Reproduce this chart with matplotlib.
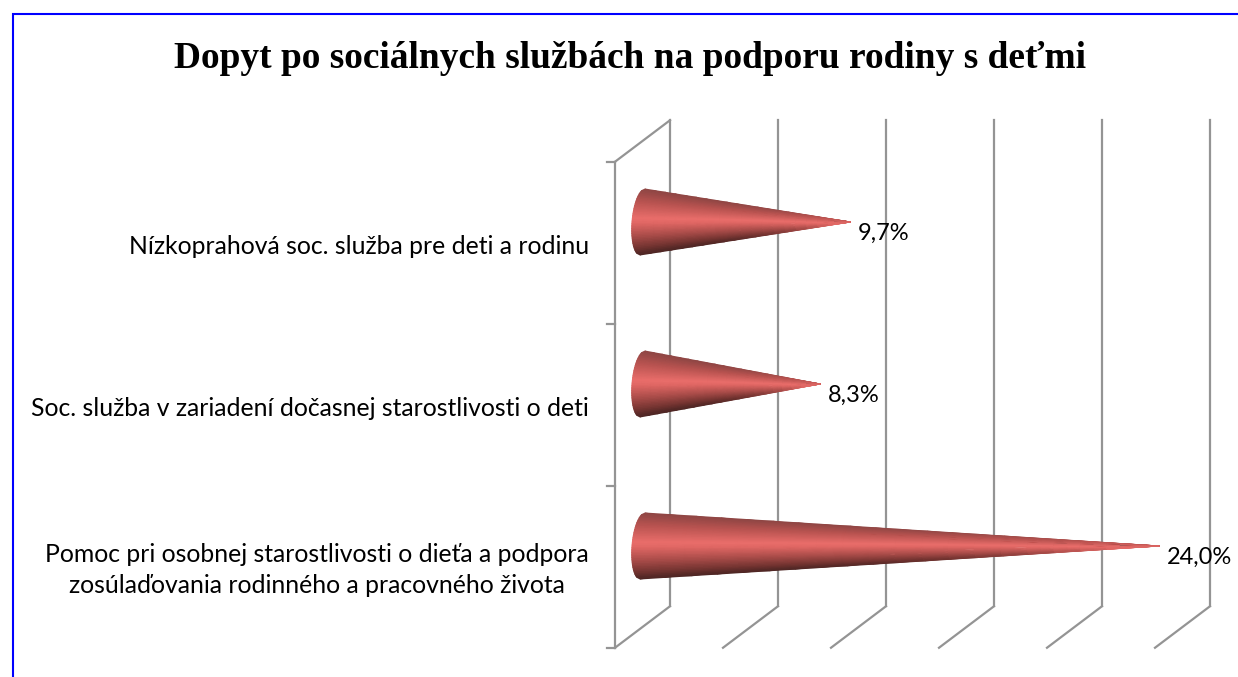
import numpy as np
import matplotlib
matplotlib.use("Agg")
import matplotlib.pyplot as plt
from matplotlib.colors import LinearSegmentedColormap
from matplotlib.lines import Line2D

title = "Dopyt po sociálnych službách na podporu rodiny s deťmi"
categories = [
    "Pomoc pri osobnej starostlivosti o dieťa a podpora\nzosúlaďovania rodinného a pracovného života",
    "Soc. služba v zariadení dočasnej starostlivosti o deti",
    "Nízkoprahová soc. služba pre deti a rodinu",
]
values = [24.0, 8.3, 9.7]
gridlines = [0, 5, 10, 15, 20, 25]

W, H = 1238, 677
PX_X = 21.6   # pixels for 1 %
PX_Y = 162.0  # pixels for one category
X0, Y0 = 642.5, 546.0
DX = 27.5 / PX_X   # half of the 3d depth
DY = 20.75 / PX_Y
GREY = "#949494"

fig = plt.figure(figsize=(W / 100, H / 100), dpi=100)
ax = fig.add_axes([0, 0, 1, 1])
ax.set_xlim(-X0 / PX_X, (W - X0) / PX_X)
ax.set_ylim((Y0 - H) / PX_Y, Y0 / PX_Y)
ax.axis("off")

# blue border, only top and left are in the picture
fig.add_artist(Line2D([12.5 / W, 12.5 / W, 1], [0, 1 - 13.5 / H, 1 - 13.5 / H], transform=fig.transFigure,
                      color="#0000ff", lw=1.5, solid_joinstyle="miter"))

fig.text(630 / W, 1 - 58 / H, title, family="Liberation Serif", weight="bold",
         fontsize=26.9, ha="center", va="center")

# walls
bot, top = -0.5, len(categories) - 0.5
for g in gridlines:
    ax.plot([g + DX, g + DX], [bot + DY, top + DY], color=GREY, lw=1.6, zorder=1)
    ax.plot([g + DX, g - DX], [bot + DY, bot - DY], color=GREY, lw=1.6, zorder=1)
ax.plot([-DX, -DX], [bot - DY, top - DY], color=GREY, lw=1.6, zorder=1)
ax.plot([DX, -DX], [top + DY, top - DY], color=GREY, lw=1.6, zorder=1)
for k in range(len(categories) + 1):
    ax.plot([-DX - 8 / PX_X, -DX], [bot + k - DY] * 2, color=GREY, lw=1.6, zorder=1)

# cones
shade = LinearSegmentedColormap.from_list("cone", [
    (0.0, "#8f4644"), (0.18, "#b85350"), (0.44, "#ea6e6b"), (0.52, "#e06764"),
    (0.72, "#ab4d4a"), (0.9, "#743431"), (1.0, "#4e2624")])
s = np.linspace(-1, 1, 41)
t = np.linspace(0, 1, 21)
S, T = np.meshgrid(s, t)
radius = 33 / PX_Y
for i, v in enumerate(values):
    xb = (-10.5 + 10.5 * (1 - np.sqrt(np.clip(1 - S ** 2, 0, 1))) + 2.5 * (-S)) / PX_X
    X = xb * (1 - T) + (v - 1.5 / PX_X) * T
    Y = i - S * radius * (1 - T)
    # shading goes flat near the tip so it stays red, not black
    C = (S + 1) / 2
    C = C + (0.3 - C) * T ** 4
    ax.pcolormesh(X, Y, C, cmap=shade, vmin=0, vmax=1, shading="gouraud", zorder=2)
    ax.annotate(f"{v:.1f}%".replace(".", ","), (v, i), xytext=(6 * 0.72, -11 * 0.72),
                textcoords="offset points", family="Lato", fontsize=17, ha="left", va="center", zorder=3)
    ax.annotate(categories[i], ((589 - X0) / PX_X, i), xytext=(0, -24 * 0.72), textcoords="offset points",
                family="Lato", fontsize=17.8, ha="right", va="center", multialignment="center", linespacing=1.4)

fig.savefig("out.png", dpi=100, facecolor="white")
